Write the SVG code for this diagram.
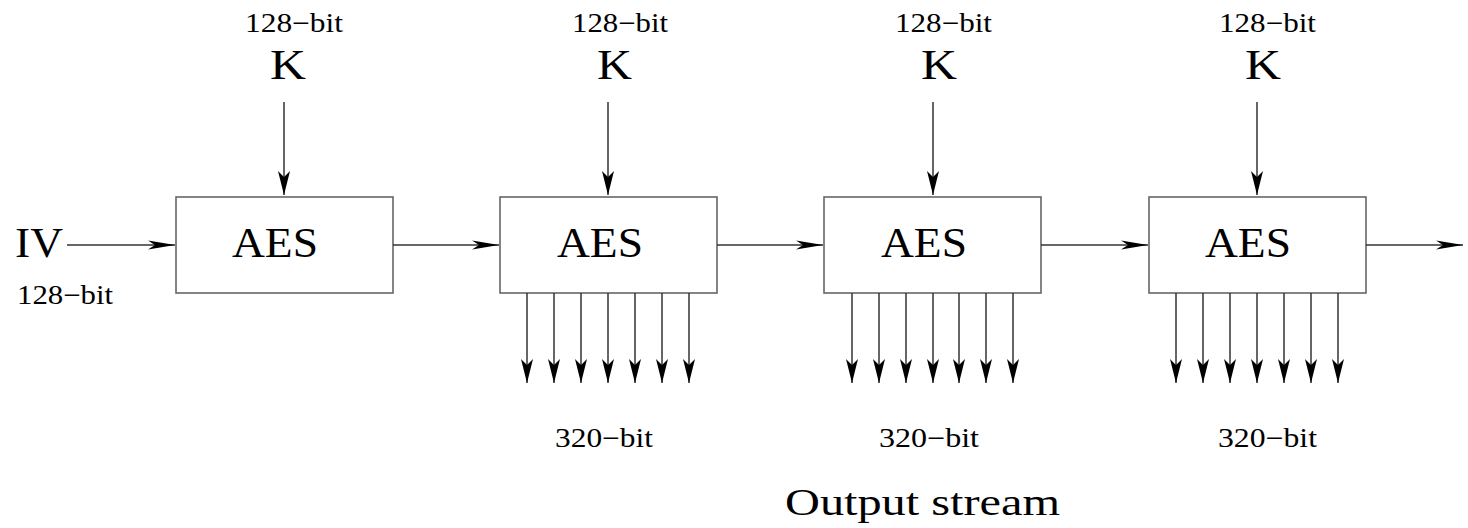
<svg xmlns="http://www.w3.org/2000/svg" width="1468" height="528" viewBox="0 0 1468 528">
<style>
text{font-family:"Liberation Serif","Times New Roman",serif;fill:#000;}
.box{fill:#fff;stroke:#666;stroke-width:1.6;}
.ln{stroke:#333;stroke-width:1.5;fill:none;}
.lbl{font-size:27px;}
.big{font-size:43px;}
.out{font-size:38px;}
</style>
<defs>
<marker id="ah" markerUnits="userSpaceOnUse" markerWidth="27" markerHeight="10" viewBox="0 0 27 10" refX="27" refY="5" orient="auto">
<path d="M0,0.6 L27,5 L0,9.4 L7,5 Z" fill="#000"/>
</marker>
<marker id="av" markerUnits="userSpaceOnUse" markerWidth="24" markerHeight="13" viewBox="0 0 24 13" refX="24" refY="6.5" orient="auto">
<path d="M0,0.5 L24,6.5 L0,12.5 L6,6.5 Z" fill="#000"/>
</marker>
</defs>
<rect width="1468" height="528" fill="#fff"/>

<g id="iv">
<text class="big" x="15" y="257" textLength="48" lengthAdjust="spacingAndGlyphs">IV</text>
<text class="lbl" x="17" y="304" textLength="96" lengthAdjust="spacingAndGlyphs">128−bit</text>
</g>

<g id="key1">
<text class="lbl" x="245" y="32" textLength="98" lengthAdjust="spacingAndGlyphs">128−bit</text>
<text class="big" x="270" y="79" textLength="36" lengthAdjust="spacingAndGlyphs">K</text>
</g>
<g id="key2">
<text class="lbl" x="572" y="32" textLength="96" lengthAdjust="spacingAndGlyphs">128−bit</text>
<text class="big" x="597" y="79" textLength="35" lengthAdjust="spacingAndGlyphs">K</text>
</g>
<g id="key3">
<text class="lbl" x="895" y="32" textLength="97" lengthAdjust="spacingAndGlyphs">128−bit</text>
<text class="big" x="921" y="79" textLength="36" lengthAdjust="spacingAndGlyphs">K</text>
</g>
<g id="key4">
<text class="lbl" x="1219" y="32" textLength="97" lengthAdjust="spacingAndGlyphs">128−bit</text>
<text class="big" x="1245" y="79" textLength="36" lengthAdjust="spacingAndGlyphs">K</text>
</g>

<g id="aes1">
<rect class="box" x="176" y="197" width="217" height="96"/>
<text class="big" x="232" y="257" textLength="86" lengthAdjust="spacingAndGlyphs">AES</text>
</g>
<g id="aes2">
<rect class="box" x="500" y="197" width="217" height="96"/>
<text class="big" x="557" y="257" textLength="86" lengthAdjust="spacingAndGlyphs">AES</text>
</g>
<g id="aes3">
<rect class="box" x="824" y="197" width="217" height="96"/>
<text class="big" x="881" y="257" textLength="86" lengthAdjust="spacingAndGlyphs">AES</text>
</g>
<g id="aes4">
<rect class="box" x="1149" y="197" width="217" height="96"/>
<text class="big" x="1205" y="257" textLength="86" lengthAdjust="spacingAndGlyphs">AES</text>
</g>

<g id="out-labels">
<text class="lbl" x="555" y="447" textLength="98" lengthAdjust="spacingAndGlyphs">320−bit</text>
<text class="lbl" x="879" y="447" textLength="100" lengthAdjust="spacingAndGlyphs">320−bit</text>
<text class="lbl" x="1218" y="447" textLength="99" lengthAdjust="spacingAndGlyphs">320−bit</text>
<text class="out" x="785" y="515" textLength="275" lengthAdjust="spacingAndGlyphs">Output stream</text>
</g>

<g id="connectors">
<line class="ln" x1="67" y1="245" x2="175" y2="245" marker-end="url(#ah)"/>
<line class="ln" x1="393" y1="245" x2="499" y2="245" marker-end="url(#ah)"/>
<line class="ln" x1="717" y1="245" x2="823" y2="245" marker-end="url(#ah)"/>
<line class="ln" x1="1041" y1="245" x2="1148" y2="245" marker-end="url(#ah)"/>
<line class="ln" x1="1366" y1="245" x2="1463" y2="245" marker-end="url(#ah)"/>

<line class="ln" x1="284" y1="102" x2="284" y2="195" marker-end="url(#av)"/>
<line class="ln" x1="608" y1="102" x2="608" y2="195" marker-end="url(#av)"/>
<line class="ln" x1="933" y1="102" x2="933" y2="195" marker-end="url(#av)"/>
<line class="ln" x1="1257" y1="102" x2="1257" y2="195" marker-end="url(#av)"/>

<line class="ln" x1="527" y1="293" x2="527" y2="383" marker-end="url(#av)"/>
<line class="ln" x1="554" y1="293" x2="554" y2="383" marker-end="url(#av)"/>
<line class="ln" x1="581" y1="293" x2="581" y2="383" marker-end="url(#av)"/>
<line class="ln" x1="608" y1="293" x2="608" y2="383" marker-end="url(#av)"/>
<line class="ln" x1="635" y1="293" x2="635" y2="383" marker-end="url(#av)"/>
<line class="ln" x1="662" y1="293" x2="662" y2="383" marker-end="url(#av)"/>
<line class="ln" x1="689" y1="293" x2="689" y2="383" marker-end="url(#av)"/>

<line class="ln" x1="852" y1="293" x2="852" y2="383" marker-end="url(#av)"/>
<line class="ln" x1="879" y1="293" x2="879" y2="383" marker-end="url(#av)"/>
<line class="ln" x1="906" y1="293" x2="906" y2="383" marker-end="url(#av)"/>
<line class="ln" x1="933" y1="293" x2="933" y2="383" marker-end="url(#av)"/>
<line class="ln" x1="959" y1="293" x2="959" y2="383" marker-end="url(#av)"/>
<line class="ln" x1="986" y1="293" x2="986" y2="383" marker-end="url(#av)"/>
<line class="ln" x1="1013" y1="293" x2="1013" y2="383" marker-end="url(#av)"/>

<line class="ln" x1="1176" y1="293" x2="1176" y2="383" marker-end="url(#av)"/>
<line class="ln" x1="1203" y1="293" x2="1203" y2="383" marker-end="url(#av)"/>
<line class="ln" x1="1230" y1="293" x2="1230" y2="383" marker-end="url(#av)"/>
<line class="ln" x1="1257" y1="293" x2="1257" y2="383" marker-end="url(#av)"/>
<line class="ln" x1="1284" y1="293" x2="1284" y2="383" marker-end="url(#av)"/>
<line class="ln" x1="1311" y1="293" x2="1311" y2="383" marker-end="url(#av)"/>
<line class="ln" x1="1338" y1="293" x2="1338" y2="383" marker-end="url(#av)"/>
</g>
</svg>
